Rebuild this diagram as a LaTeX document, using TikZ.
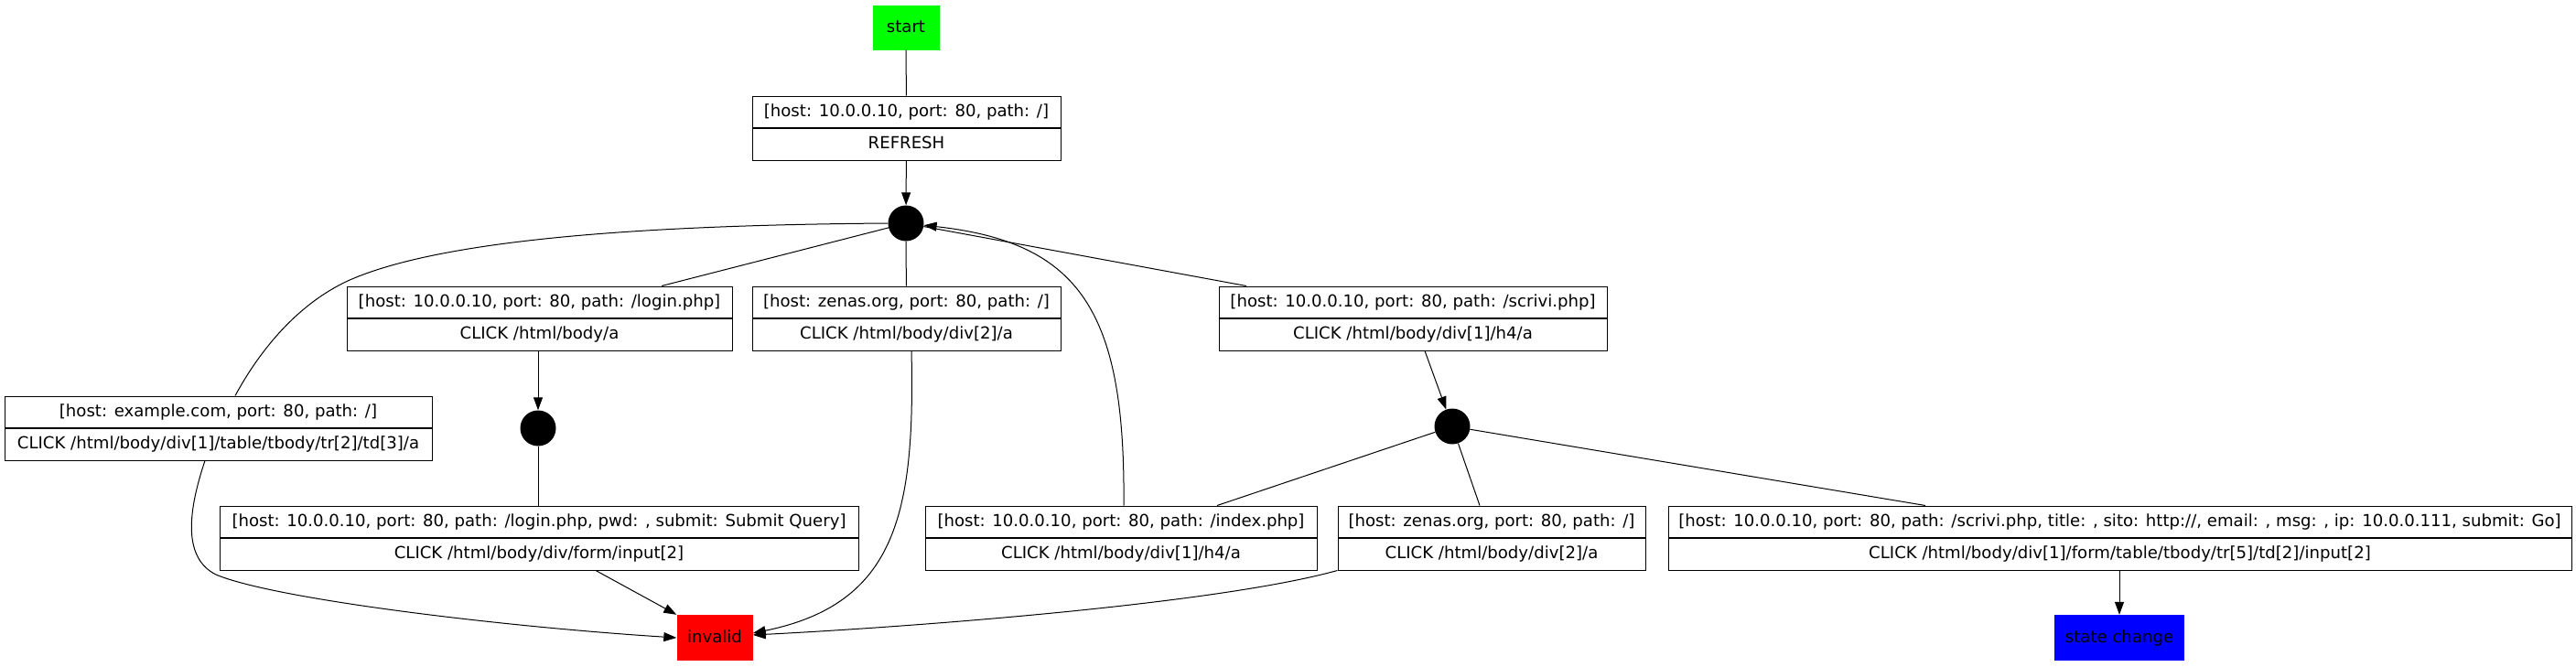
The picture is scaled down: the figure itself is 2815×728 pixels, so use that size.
\documentclass[tikz,border=0pt]{standalone}
\usepackage{fontspec}
\setmainfont{DejaVu Sans}
\usetikzlibrary{arrows.meta,calc}
\definecolor{gvgreen}{RGB}{0,255,0}
\definecolor{gvred}{RGB}{255,0,0}
\definecolor{gvblue}{RGB}{0,0,255}
\newcommand\dgfont{\fontsize{18.1pt}{22pt}\selectfont}
\tikzset{
  recbox/.style={draw, line width=1pt, minimum height=70pt, inner sep=0pt},
  divider/.style={line width=1.4pt},
  rectxt/.style={font=\dgfont, inner sep=0pt, text height=14pt, text depth=4pt},
  dot/.style={circle, fill=black, minimum size=39pt, inner sep=0pt},
  term/.style={inner sep=0pt, font=\dgfont, text height=14pt, text depth=4pt},
  arr/.style={-{Triangle[length=14pt,width=10pt]}, line width=1pt},
  ln/.style={line width=1pt}
}
\newcommand\recnode[6]{%
  \node[recbox, minimum width=#4] (#1) at (#2,#3) {};
  \draw[divider] (#1.west) -- (#1.east);
  \node[rectxt] (#1-top) at ($(#1.center)+(0,-17.5)$) {#5};
  \node[rectxt] (#1-bot) at ($(#1.center)+(0,17.5)$) {#6};
}
\begin{document}
\begin{tikzpicture}[x=1pt,y=-1pt]
\useasboundingbox[fill=white] (0,0) rectangle (2815,728);

% terminal nodes
\node[term, fill=gvgreen, minimum width=73pt, minimum height=49pt] (start) at (990,30) {start};
\node[term, fill=gvred, minimum width=83pt, minimum height=50pt] (invalid) at (781,697) {invalid};
\node[term, fill=gvblue, minimum width=142pt, minimum height=50pt] (statechange) at (2316,697) {state change};

% state dots
\node[dot] (c1) at (990,244) {};
\node[dot] (c2) at (588,468) {};
\node[dot] (c3) at (1587,466) {};

% records
\recnode{refresh}{990.5}{140}{337pt}{[host: 10.0.0.10, port: 80, path: /]}{REFRESH}
\recnode{example}{238.5}{468}{467pt}{[host: example.com, port: 80, path: /]}{CLICK /html/body/div[1]/table/tbody/tr[2]/td[3]/a}
\recnode{login}{589.5}{348}{421pt}{[host: 10.0.0.10, port: 80, path: /login.php]}{CLICK /html/body/a}
\recnode{zenas1}{990.5}{348}{337pt}{[host: zenas.org, port: 80, path: /]}{CLICK /html/body/div[2]/a}
\recnode{scrivi}{1544}{348}{424pt}{[host: 10.0.0.10, port: 80, path: /scrivi.php]}{CLICK /html/body/div[1]/h4/a}
\recnode{loginsub}{589}{588}{698pt}{[host: 10.0.0.10, port: 80, path: /login.php, pwd: , submit: Submit Query]}{CLICK /html/body/div/form/input[2]}
\recnode{index}{1225}{588}{428pt}{[host: 10.0.0.10, port: 80, path: /index.php]}{CLICK /html/body/div[1]/h4/a}
\recnode{zenas2}{1630}{588}{336pt}{[host: zenas.org, port: 80, path: /]}{CLICK /html/body/div[2]/a}
\recnode{scrivisub}{2316.5}{588}{987pt}{[host: 10.0.0.10, port: 80, path: /scrivi.php, title: , sito: http://, email: , msg: , ip: 10.0.0.111, submit: Go]}{CLICK /html/body/div[1]/form/table/tbody/tr[5]/td[2]/input[2]}

% connectors
\draw[ln] (start) -- (refresh);
\draw[arr] (refresh) -- (c1);
\draw[ln] (c1) -- ([xshift=133.5pt]login.north);
\draw[ln] (c1) -- (zenas1);
\draw[ln] (c1) -- ([xshift=-182pt]scrivi.north);
\draw[ln] (c1.west) .. controls (700,246) and (480,262) .. (380,307)
          .. controls (320,335) and (280,390) .. ([xshift=18.5pt]example.north);
\draw[arr] (login.south -| c2) -- (c2);
\draw[ln] (c2) -- (loginsub.north -| c2);
\draw[arr] ([xshift=62pt]loginsub.south) -- (invalid.north west);
\draw[arr] ([xshift=-14.5pt]example.south) .. controls (205,560) and (200,610) .. (236,628)
          .. controls (300,655) and (550,685) .. (invalid.west);
\draw[arr] ([xshift=5.5pt]zenas1.south) .. controls (1000,560) and (980,660) .. ([yshift=5pt]invalid.east);
\draw[arr] ([xshift=3pt]index.north) .. controls (1230,340) and (1180,265) .. (c1);
\draw[arr] ([xshift=13pt]scrivi.south) -- (c3);
\draw[ln] (c3) -- ([xshift=105pt]index.north);
\draw[ln] (c3) -- ([xshift=-13pt]zenas2.north);
\draw[ln] (c3) -- ([xshift=-212.5pt]scrivisub.north);
\draw[arr] (zenas2.south west) .. controls (1330,660) and (1000,685) .. ([yshift=3pt]invalid.east);
\draw[arr] (scrivisub.south -| statechange) -- (statechange);
\end{tikzpicture}
\end{document}
